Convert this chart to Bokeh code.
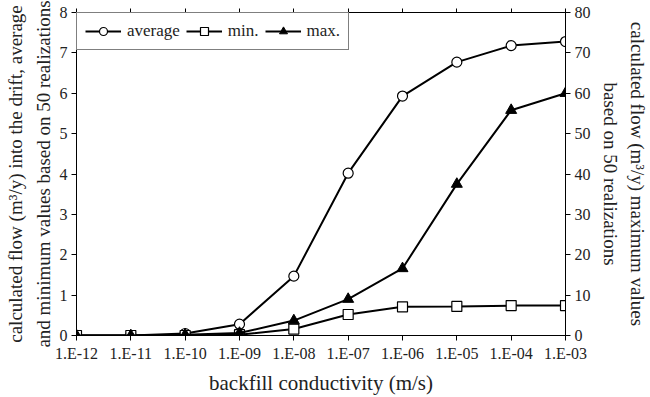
from bokeh.plotting import figure
from bokeh.models import (ColumnDataSource, LinearAxis, Range1d, FixedTicker,
                          Legend, LegendItem)
from bokeh.embed import file_html
from bokeh.resources import INLINE

# backfill hydraulic conductivity classes (m/s)
conductivity = ["1.E-12", "1.E-11", "1.E-10", "1.E-09", "1.E-08",
                "1.E-07", "1.E-06", "1.E-05", "1.E-04", "1.E-03"]
# flow into the drift (m3/y), 50 realizations
flow_average = [0.0, 0.0, 0.05, 0.28, 1.47, 4.02, 5.93, 6.77, 7.18, 7.28]
flow_min = [0.0, 0.0, 0.0, 0.02, 0.16, 0.52, 0.71, 0.72, 0.74, 0.74]
flow_max = [0.0, 0.0, 0.2, 0.6, 3.7, 9.0, 16.6, 37.5, 55.8, 60.0]

left_title = ("calculated flow (m\u00b3/y) into the drift, average\n"
              "and minimum values based on 50 realizations")
right_title = ("calculated flow (m\u00b3/y) maximum values\n"
               "based on 50 realizations")

FONT = "Liberation Serif"
TXT = "#222222"
idx = list(range(len(conductivity)))

src = ColumnDataSource(dict(x=idx, avg=flow_average, mn=flow_min, mx=flow_max))

p = figure(width=650, height=397, output_backend="svg", toolbar_location=None,
           x_range=Range1d(0, len(conductivity) - 1), y_range=Range1d(0, 8),
           min_border_left=76, min_border_right=84, min_border_top=12,
           min_border_bottom=57)
p.extra_y_ranges = {"right": Range1d(0, 80)}

p.xgrid.visible = False
p.ygrid.visible = False
p.outline_line_color = "black"
p.outline_line_width = 1
p.background_fill_color = "white"
p.border_fill_color = "white"

r_avg_l = p.line("x", "avg", source=src, line_color="black", line_width=2)
r_avg_m = p.scatter("x", "avg", source=src, marker="circle", size=10,
                    line_color="black", fill_color="white", line_width=1.2)
r_min_l = p.line("x", "mn", source=src, line_color="black", line_width=2)
r_min_m = p.scatter("x", "mn", source=src, marker="square", size=10,
                    line_color="black", fill_color="white", line_width=1.2)
r_max_l = p.line("x", "mx", source=src, line_color="black", line_width=2,
                 y_range_name="right")
r_max_m = p.scatter("x", "mx", source=src, marker="triangle", size=11,
                    line_color="black", fill_color="black", y_range_name="right")

def style_axis(ax, title_size="19px"):
    ax.axis_line_color = "black"
    ax.major_tick_line_color = "black"
    ax.minor_tick_line_color = None
    ax.major_tick_in = 0
    ax.major_tick_out = 5
    ax.major_label_standoff = 4
    ax.major_label_text_font = FONT
    ax.major_label_text_font_size = "16px"
    ax.major_label_text_color = TXT
    ax.axis_label_text_font = FONT
    ax.axis_label_text_font_size = title_size
    ax.axis_label_text_font_style = "normal"
    ax.axis_label_text_color = TXT
    ax.axis_label_text_line_height = 1.3

xa = p.xaxis[0]
xa.ticker = FixedTicker(ticks=idx)
xa.major_label_overrides = {i: c for i, c in zip(idx, conductivity)}
xa.axis_label = "backfill conductivity (m/s)"
style_axis(xa, "21px")
xa.axis_label_standoff = 6

ya = p.yaxis[0]
ya.ticker = FixedTicker(ticks=list(range(0, 9)))
ya.axis_label = left_title
style_axis(ya)
ya.axis_label_standoff = 3

yr = LinearAxis(y_range_name="right", ticker=FixedTicker(ticks=list(range(0, 81, 10))),
                axis_label=right_title)
style_axis(yr)
yr.axis_label_standoff = 6
p.add_layout(yr, "right")

# small ticks along the top edge at each conductivity class
top = LinearAxis(ticker=FixedTicker(ticks=idx), major_label_text_font_size="0px",
                 major_tick_in=0, major_tick_out=4, minor_tick_line_color=None,
                 axis_line_color="black", major_tick_line_color="black",
                 major_label_standoff=0)
top.major_label_overrides = {i: "" for i in idx}
p.add_layout(top, "above")

legend = Legend(items=[
    LegendItem(label="average", renderers=[r_avg_l, r_avg_m]),
    LegendItem(label="min.", renderers=[r_min_l, r_min_m]),
    LegendItem(label="max.", renderers=[r_max_l, r_max_m]),
], orientation="horizontal", location="top_left")
legend.label_text_font = FONT
legend.label_text_font_size = "17px"
legend.label_text_color = TXT
legend.border_line_color = "black"
legend.border_line_width = 1
legend.margin = 0
legend.padding = 8
legend.spacing = 6
legend.glyph_width = 36
legend.label_standoff = 6
legend.background_fill_alpha = 1
p.add_layout(legend)

open("out.html", "w").write(file_html(p, INLINE))
